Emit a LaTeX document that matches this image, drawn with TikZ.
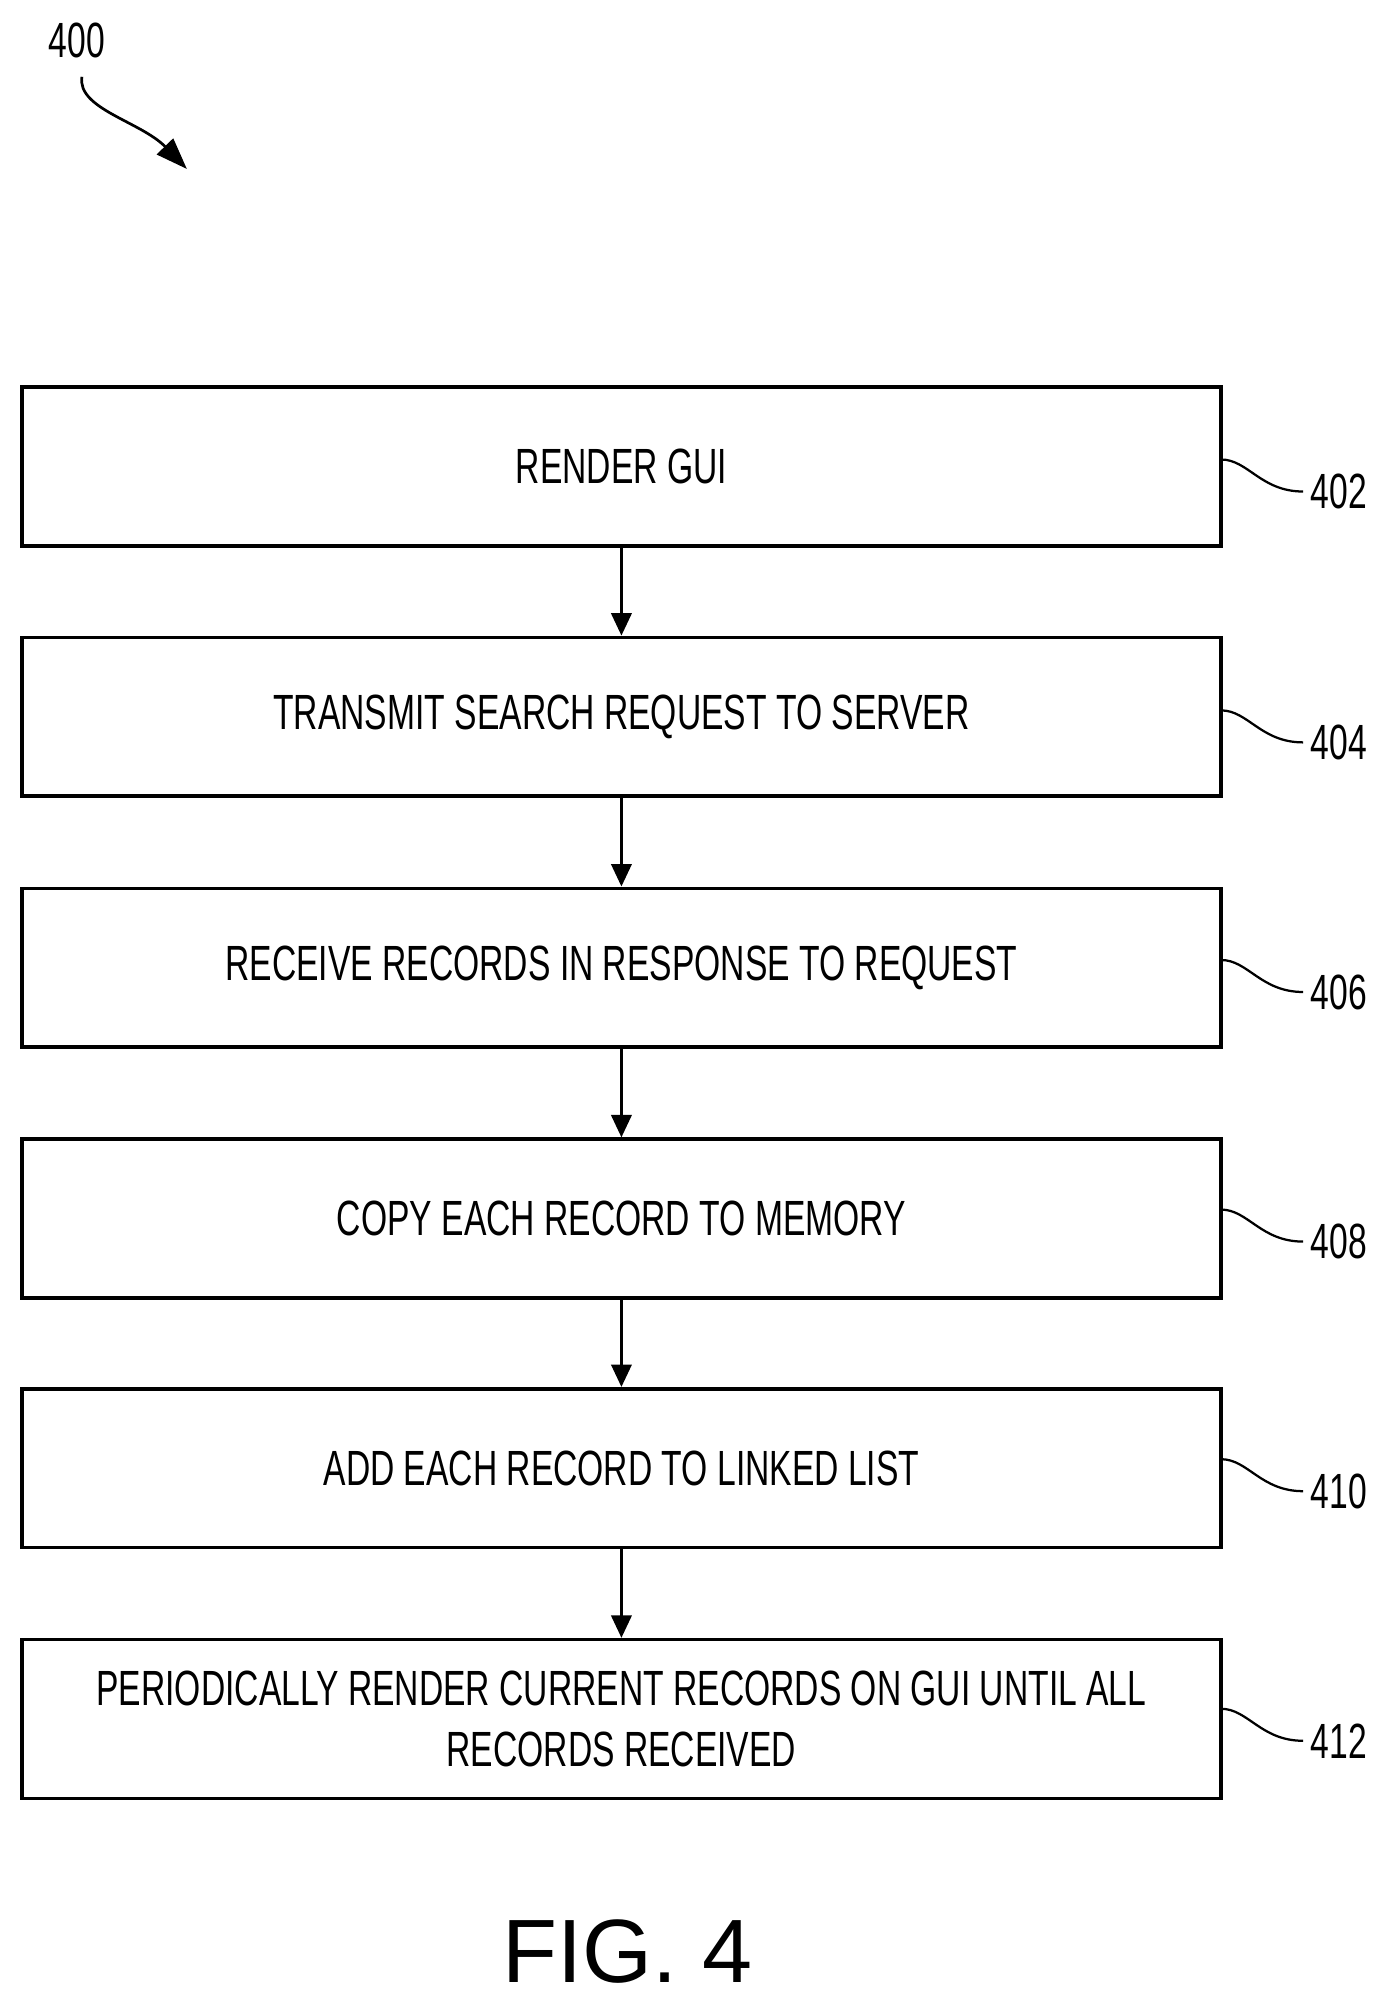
\documentclass[tikz,border=0pt]{standalone}
\usepackage{fontspec}
\setmainfont{Liberation Sans}[FakeStretch=0.68]
\newfontfamily\figfont{Liberation Sans}
\usetikzlibrary{arrows.meta}
\begin{document}
\begin{tikzpicture}[x=0.02cm,y=-0.02cm,
  box/.style={draw,line width=1.6pt,minimum width=18.74cm,minimum height=2.48cm,align=center,font=\fontsize{22}{27}\selectfont,inner sep=0pt},
  arr/.style={-{Triangle[length=10pt,width=9pt]},line width=1.4pt},
  lab/.style={font=\fontsize{22}{26}\selectfont},
  lead/.style={line width=1pt}]
\useasboundingbox (0,0) rectangle (1077,1568);
\node[box] (b402) at (485.5,364.5) {RENDER GUI};
\node[box] (b404) at (485.5,560) {TRANSMIT SEARCH REQUEST TO SERVER};
\node[box] (b406) at (485.5,756) {RECEIVE RECORDS IN RESPONSE TO REQUEST};
\node[box] (b408) at (485.5,952) {COPY EACH RECORD TO MEMORY};
\node[box] (b410) at (485.5,1147) {ADD EACH RECORD TO LINKED LIST};
\node[box] (b412) at (485.5,1343) {PERIODICALLY RENDER CURRENT RECORDS ON GUI UNTIL ALL\\RECORDS RECEIVED};
\foreach \a/\b in {b402/b404,b404/b406,b406/b408,b408/b410,b410/b412}
  \draw[arr] (\a.south) -- (\b.north);
\foreach \n/\y in {402/384,404/580,406/775,408/970,410/1165,412/1360}{
  \node[lab,anchor=west] (l\n) at (1018,\y) {\n};
  \draw[lead] (954,\y-25) .. controls (975,\y-25) and (985,\y) .. (l\n.west);
}
\node[lab] (l400) at (60,32) {400};
\coordinate (a0) at (64,60);
\coordinate (a1) at (146,132);
\draw[line width=1.2pt,-{Triangle[length=14pt,width=10pt]}] (a0) .. controls (60,85) and (110,95) .. (a1);
\node[font=\figfont\fontsize{40}{44}\selectfont] (fig) at (490,1525) {FIG. 4};
\end{tikzpicture}
\end{document}
